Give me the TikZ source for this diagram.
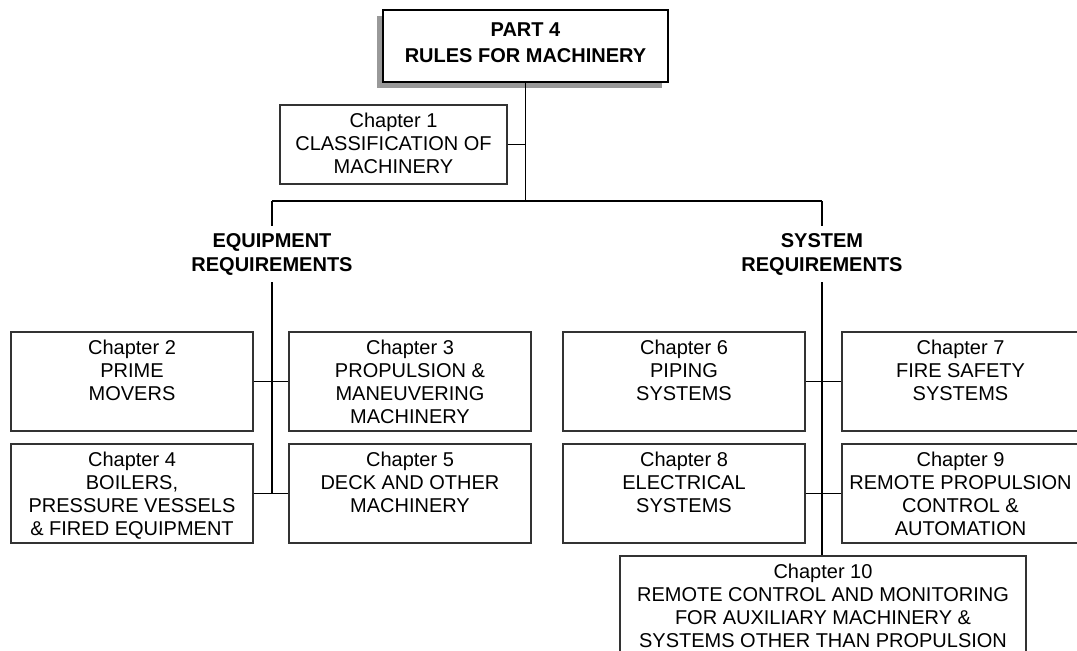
\documentclass[tikz,border=0pt]{standalone}
\usepackage{fontspec}
\setmainfont{Liberation Sans}
\tikzset{
  chbox/.style={draw=black!80, line width=1.1pt, rectangle, inner sep=0pt, fill=white},
  chtext/.style={anchor=north, align=center, inner sep=0pt, font=\fontsize{20}{23}\selectfont},
  conn/.style={draw=black, line width=1.1pt},
  head/.style={align=center, inner sep=0pt, font=\fontsize{20}{24}\selectfont\bfseries, minimum height=56pt},
  topbox/.style={draw=black, line width=2pt, fill=white, rectangle, inner sep=0pt},
  shadowbox/.style={fill=black!40, rectangle, inner sep=0pt},
}
\newcommand\chapbox[6]{%
  \node[chbox, minimum width={#4-#2}, minimum height={#5-#3}] (#1) at ({(#2+#4)/2},{(#3+#5)/2}) {};
  \node[chtext, yshift=-8.5pt] (#1t) at (#1.north) {#6};
}
\begin{document}
\begin{tikzpicture}[x=1pt,y=-1pt]
\useasboundingbox[fill=white] (0,0) rectangle (1077,651);
\clip (0,0) rectangle (1077,651);
% top box with shadow
\node[shadowbox, minimum width=285, minimum height=72] (topshadow) at (519.5,52) {};
\node[topbox, minimum width=285, minimum height=72] (top) at (525.5,46) {};
\node[align=center, inner sep=0pt, font=\fontsize{20}{26}\selectfont\bfseries] (topt) at (525.5,42.5) {PART 4\\RULES FOR MACHINERY};
% chapter 1
\chapbox{ch1}{280}{105}{507}{184}{Chapter 1\\CLASSIFICATION OF\\MACHINERY}
% equipment side
\chapbox{ch2}{11}{332}{253}{431}{Chapter 2\\PRIME\\MOVERS}
\chapbox{ch3}{289}{332}{531}{431}{Chapter 3\\PROPULSION \&\\MANEUVERING\\MACHINERY}
\chapbox{ch4}{11}{444}{253}{543}{Chapter 4\\BOILERS,\\PRESSURE VESSELS\\\& FIRED EQUIPMENT}
\chapbox{ch5}{289}{444}{531}{543}{Chapter 5\\DECK AND OTHER\\MACHINERY}
% system side
\chapbox{ch6}{563}{332}{805}{431}{Chapter 6\\PIPING\\SYSTEMS}
\chapbox{ch7}{842}{332}{1079}{431}{Chapter 7\\FIRE SAFETY\\SYSTEMS}
\chapbox{ch8}{563}{444}{805}{543}{Chapter 8\\ELECTRICAL\\SYSTEMS}
\chapbox{ch9}{842}{444}{1079}{543}{Chapter 9\\REMOTE PROPULSION\\CONTROL \&\\AUTOMATION}
\chapbox{ch10}{620}{556}{1026}{666}{Chapter 10\\REMOTE CONTROL AND MONITORING\\FOR AUXILIARY MACHINERY \&\\SYSTEMS OTHER THAN PROPULSION}
% headings
\node[head] (eqh) at (272,254) {EQUIPMENT\\REQUIREMENTS};
\node[head] (sysh) at (822,254) {SYSTEM\\REQUIREMENTS};
% connectors
\coordinate (busL) at (272,201);
\coordinate (busR) at (822,201);
\coordinate (eqEnd) at (272,493.5);
\draw[conn] (top.south) -- (top.south |- busL);
\draw[conn] (ch1.east) -- (ch1.east -| top.south);
\draw[conn] (busL) -- (busR);
\draw[conn] (busL) -- (eqh.north);
\draw[conn] (busR) -- (sysh.north);
\draw[conn] (eqh.south) -- (eqEnd);
\draw[conn] (ch2.east) -- (ch3.west);
\draw[conn] (ch4.east) -- (ch5.west);
\draw[conn] (sysh.south) -- (sysh.south |- ch10.north);
\draw[conn] (ch6.east) -- (ch7.west);
\draw[conn] (ch8.east) -- (ch9.west);
\end{tikzpicture}
\end{document}
